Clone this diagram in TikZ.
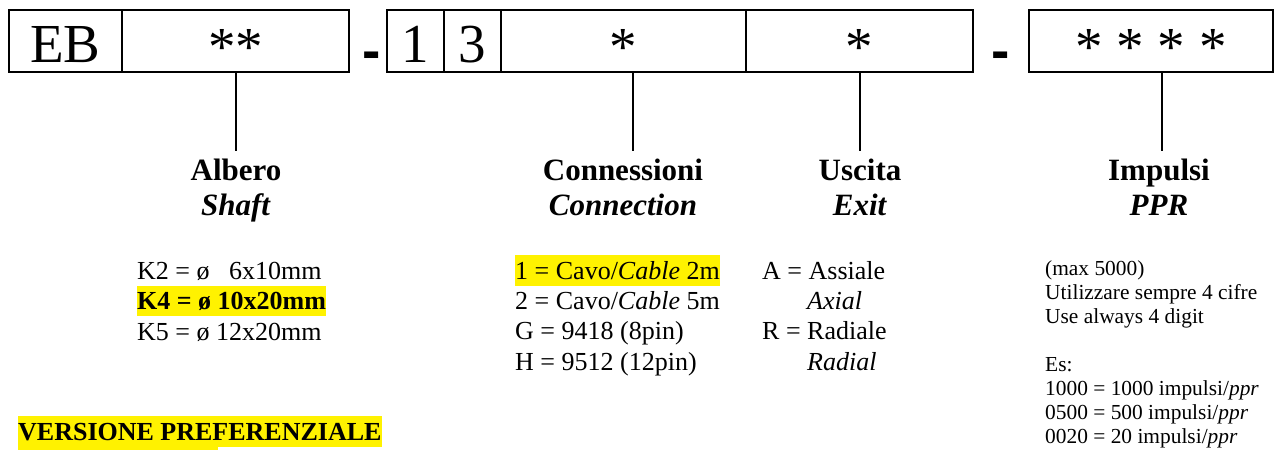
\documentclass[tikz,border=0pt]{standalone}
\usepackage{fontspec}
\setmainfont{Liberation Serif}
\setsansfont{Liberation Sans}
\usepackage{tikz}
\newcommand{\yhl}[1]{{\setlength{\fboxsep}{0pt}\colorbox{yellow}{\rule[-6.5pt]{0pt}{30.5pt}#1}}}

\begin{document}
\begin{tikzpicture}[x=1pt, y=-1pt,
    box/.style={draw=black, line width=2pt, minimum height=62pt, inner sep=0pt,
        font=\fontsize{55}{60}\selectfont, text height=42pt, text depth=0pt},
    stars/.style={text height=48pt},
    hyph/.style={font=\sffamily\bfseries\fontsize{55}{60}\selectfont, anchor=base, inner sep=0pt},
    title/.style={font=\bfseries\fontsize{31}{35}\selectfont, align=center, anchor=base},
    list/.style={font=\fontsize{26}{30.3}\selectfont, align=left, anchor=base west, inner sep=0pt},
    note/.style={font=\fontsize{21.4}{23.9}\selectfont, align=left, anchor=base west, inner sep=0pt},
    link/.style={line width=2pt}]
    \useasboundingbox (0,0) rectangle (1275,450);
    % code boxes
    \node[box, minimum width=113pt] at (65.5,41) (EB) {EB};
    \node[box, stars, minimum width=227pt] at (235.5,41) (B1) {**};
    \node[hyph] at (371.5,69) (D1) {-};
    \node[box, minimum width=57pt] at (415.5,41) (B2) {1};
    \node[box, minimum width=57pt] at (472.5,41) (B3) {3};
    \node[box, stars, minimum width=245pt] at (623.5,41) (B4) {*};
    \node[box, stars, minimum width=227pt] at (859.5,41) (B5) {*};
    \node[hyph] at (1000.5,69) (D2) {-};
    \node[box, stars, minimum width=244pt] at (1151,41) (B6) {* * * *};
    % titles (base = last line)
    \node[title] at (236,215) (T1) {Albero\\\textit{Shaft}};
    \node[title] at (623,215) (T4) {Connessioni\\\textit{Connection}};
    \node[title] at (860,215) (T5) {Uscita\\\textit{Exit}};
    \node[title] at (1159,215) (T6) {Impulsi\\\textit{PPR}};
    \coordinate (L1) at (236,151);
    \coordinate (L4) at (633,151);
    \coordinate (L5) at (860,151);
    \coordinate (L6) at (1162,151);
    \draw[link] (B1.south -| L1) -- (L1);
    \draw[link] (B4.south -| L4) -- (L4);
    \draw[link] (B5.south -| L5) -- (L5);
    \draw[link] (B6.south -| L6) -- (L6);
    % options
    \node[list] at (137,340) (K) {K2 = ø\ \ \ 6x10mm\\
        \yhl{\textbf{K4 = ø 10x20mm}}\\
        K5 = ø 12x20mm};
    \node[list] at (515,370) (C) {\yhl{1 = Cavo/\textit{Cable} 2m}\\
        2 = Cavo/\textit{Cable} 5m\\
        G = 9418 (8pin)\\
        H = 9512 (12pin)};
    \node[list] at (762,370) (X) {A = Assiale\\
        \hspace*{45pt}\textit{Axial}\\
        R = Radiale\\
        \hspace*{45pt}\textit{Radial}};
    \node[note] at (1045,443) (N) {(max 5000)\\
        Utilizzare sempre 4 cifre\\
        Use always 4 digit\\
        \mbox{}\\
        Es:\\
        1000 = 1000 impulsi/\textit{ppr}\\
        0500 = 500 impulsi/\textit{ppr}\\
        0020 = 20 impulsi/\textit{ppr}};
    \node[list] at (18,440) (VP) {\yhl{\textbf{VERSIONE PREFERENZIALE}}};
    \fill[yellow] (18,447) rectangle (218,450);
\end{tikzpicture}
\end{document}
